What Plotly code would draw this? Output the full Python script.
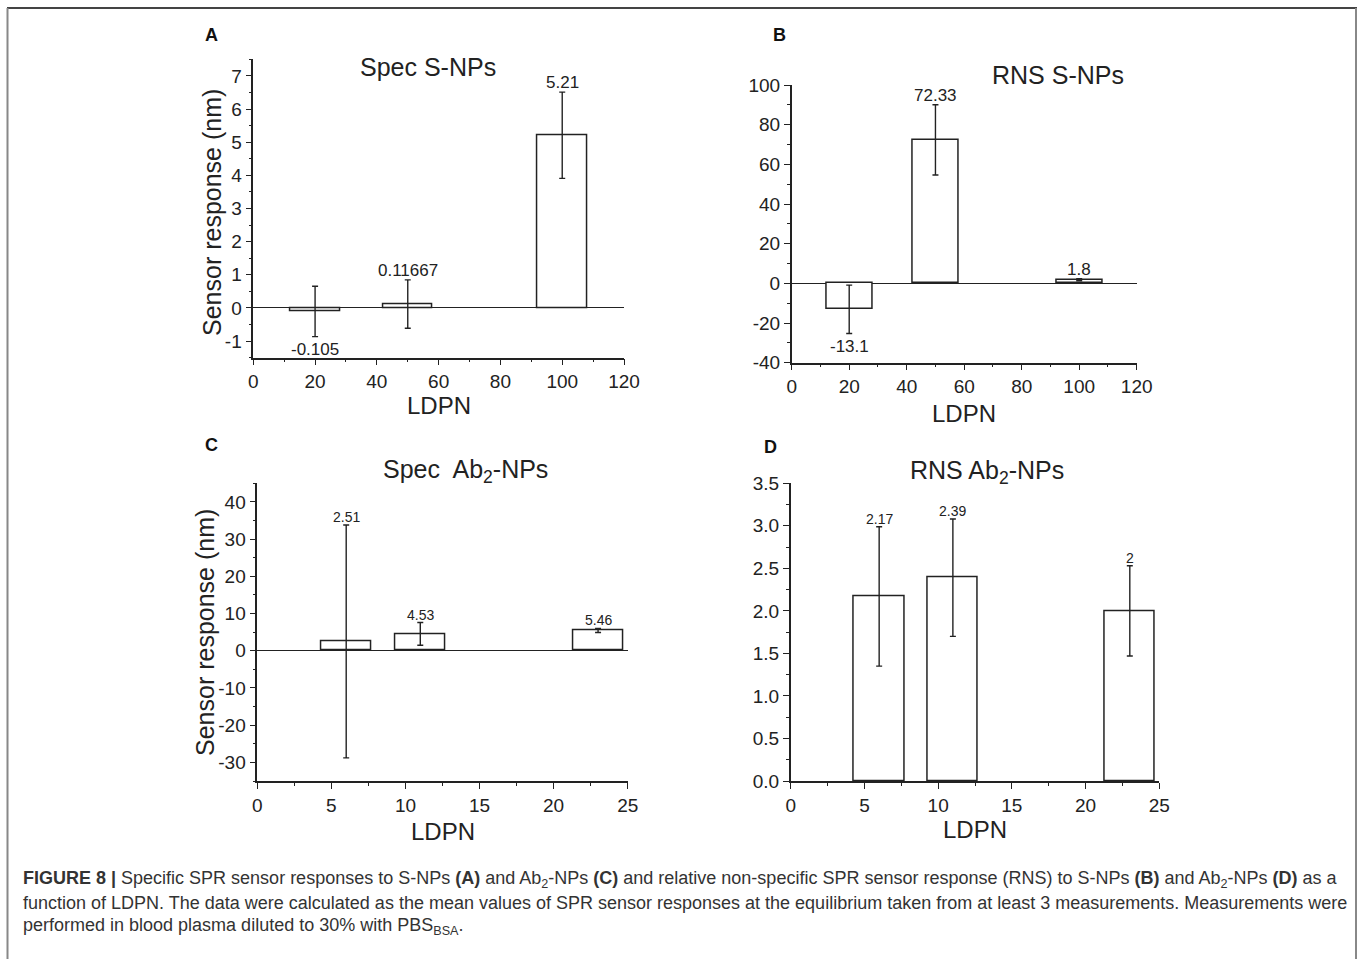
import plotly.graph_objects as go

W, H = 1358, 959

# ---------------- data ----------------
ldpn_s = [20, 50, 100]
spec_s = [-0.105, 0.11667, 5.21]
spec_s_err = [0.76, 0.73, 1.30]
spec_s_lbl = ["-0.105", "0.11667", "5.21"]

rns_s = [-13.1, 72.33, 1.8]
rns_s_err = [12.2, 17.7, 0.5]
rns_s_lbl = ["-13.1", "72.33", "1.8"]

ldpn_ab = [6, 11, 23]
spec_ab = [2.51, 4.53, 5.46]
spec_ab_err = [31.3, 3.05, 0.55]
spec_ab_lbl = ["2.51", "4.53", "5.46"]

rns_ab = [2.17, 2.39, 2.0]
rns_ab_err = [0.82, 0.69, 0.53]
rns_ab_lbl = ["2.17", "2.39", "2"]

FONT = "Liberation Sans, Arial, Helvetica, sans-serif"
INK = "#222"


def px(x):
    return x / W


def py(y):
    return 1 - y / H


def tick_list(lo, hi, step, fmt):
    vals, text = [], []
    n = int(round((hi - lo) / step))
    for i in range(n + 1):
        v = round(lo + i * step, 6)
        vals.append(v)
        text.append(format(v, fmt) if fmt else ("%g" % v))
    return vals, text


panels = [
    dict(key="", x=ldpn_s, y=spec_s, err=spec_s_err, lbl=spec_s_lbl, width=16,
         xdom=(253.3, 624.0), ydom=(357.7, 59.3), xr=[0, 120], xd=20, xm=10,
         yr=[-1.5, 7.5], yt=(-1, 7, 1), ym=0.5, yfmt="", lblsize=17,
         title="Spec S-NPs", tpos=(428, 67), letter="A", lpos=(211, 35),
         ldpn=(439, 405), ytitle=(212, 213)),
    dict(key="2", x=ldpn_s, y=rns_s, err=rns_s_err, lbl=rns_s_lbl, width=16,
         xdom=(791.7, 1136.7), ydom=(362.7, 85.0), xr=[0, 120], xd=20, xm=10,
         yr=[-40, 100], yt=(-40, 100, 20), ym=10, yfmt="", lblsize=17,
         title="RNS S-NPs", tpos=(1058, 75), letter="B", lpos=(779, 35),
         ldpn=(964, 414), ytitle=None),
    dict(key="3", x=ldpn_ab, y=spec_ab, err=spec_ab_err, lbl=spec_ab_lbl, width=3.4,
         xdom=(257.3, 627.7), ydom=(781.0, 483.3), xr=[0, 25], xd=5, xm=2.5,
         yr=[-35, 45], yt=(-30, 40, 10), ym=5, yfmt="", lblsize=14,
         title="Spec  Ab<sub>2</sub>-NPs", tpos=(465, 471), letter="C", lpos=(211, 445),
         ldpn=(443, 831), ytitle=(205, 633)),
    dict(key="4", x=ldpn_ab, y=rns_ab, err=rns_ab_err, lbl=rns_ab_lbl, width=3.4,
         xdom=(790.7, 1159.3), ydom=(781.0, 483.3), xr=[0, 25], xd=5, xm=2.5,
         yr=[0, 3.5], yt=(0, 3.5, 0.5), ym=0.25, yfmt=".1f", lblsize=14,
         title="RNS Ab<sub>2</sub>-NPs", tpos=(987, 472), letter="D", lpos=(770, 447),
         ldpn=(975, 829), ytitle=None),
]

fig = go.Figure()
annotations = []
layout = {}

for p in panels:
    k = p["key"]
    xa, ya = "x" + k, "y" + k
    fig.add_trace(go.Bar(
        x=p["x"], y=p["y"], width=p["width"],
        marker=dict(color="white", line=dict(color=INK, width=1.5)),
        error_y=dict(type="data", array=p["err"], visible=True,
                     color=INK, thickness=1.4, width=3),
        xaxis=xa, yaxis=ya, showlegend=False, hoverinfo="x+y",
    ))
    common = dict(showline=True, linecolor=INK, linewidth=1.5,
                  ticks="outside", ticklen=6, tickwidth=1.4, tickcolor=INK,
                  showgrid=False, automargin=False,
                  tickfont=dict(family=FONT, size=19, color=INK))
    layout["xaxis" + k] = dict(
        domain=[px(p["xdom"][0]), px(p["xdom"][1])], anchor=ya,
        range=p["xr"], tick0=0, dtick=p["xd"], zeroline=False,
        minor=dict(ticks="outside", ticklen=3, tickwidth=1.2, tickcolor=INK,
                   dtick=p["xm"], showgrid=False),
        **common)
    yv_, yt_ = tick_list(p["yt"][0], p["yt"][1], p["yt"][2], p["yfmt"])
    layout["yaxis" + k] = dict(
        domain=[py(p["ydom"][0]), py(p["ydom"][1])], anchor=xa,
        range=p["yr"], tickmode="array", tickvals=yv_, ticktext=yt_,
        zeroline=(p["yr"][0] < 0), zerolinecolor=INK, zerolinewidth=1.4,
        minor=dict(ticks="outside", ticklen=3, tickwidth=1.2, tickcolor=INK,
                   tick0=0, dtick=p["ym"], showgrid=False),
        **common)
    # value labels
    for xv, yv, ev, t in zip(p["x"], p["y"], p["err"], p["lbl"]):
        if yv < 0:
            annotations.append(dict(x=xv, y=yv - ev, xref=xa, yref=ya, text=t,
                                    showarrow=False, yanchor="top", yshift=-1,
                                    font=dict(family=FONT, size=p["lblsize"], color=INK)))
        else:
            annotations.append(dict(x=xv, y=yv + ev, xref=xa, yref=ya, text=t,
                                    showarrow=False, yanchor="bottom", yshift=-2,
                                    font=dict(family=FONT, size=p["lblsize"], color=INK)))
    # panel title
    annotations.append(dict(x=px(p["tpos"][0]), y=py(p["tpos"][1]), xref="paper", yref="paper",
                            text=p["title"], showarrow=False, xanchor="center", yanchor="middle",
                            font=dict(family=FONT, size=25, color=INK)))
    # panel letter
    annotations.append(dict(x=px(p["lpos"][0]), y=py(p["lpos"][1]), xref="paper", yref="paper",
                            text="<b>%s</b>" % p["letter"], showarrow=False,
                            xanchor="center", yanchor="middle",
                            font=dict(family=FONT, size=18, color="#111")))
    # x title
    annotations.append(dict(x=px(p["ldpn"][0]), y=py(p["ldpn"][1]), xref="paper", yref="paper",
                            text="LDPN", showarrow=False, xanchor="center", yanchor="middle",
                            font=dict(family=FONT, size=24, color=INK)))
    if p["ytitle"]:
        annotations.append(dict(x=px(p["ytitle"][0]), y=py(p["ytitle"][1]), xref="paper",
                                yref="paper", text="Sensor response (nm)", textangle=-90,
                                showarrow=False, xanchor="center", yanchor="middle",
                                font=dict(family=FONT, size=25, color=INK)))

# caption
cap_lines = [
    "<b>FIGURE 8 |</b> Specific SPR sensor responses to S-NPs <b>(A)</b> and Ab<sub>2</sub>-NPs "
    "<b>(C)</b> and relative non-specific SPR sensor response (RNS) to S-NPs <b>(B)</b> and "
    "Ab<sub>2</sub>-NPs <b>(D)</b> as a",
    "function of LDPN. The data were calculated as the mean values of SPR sensor responses at the "
    "equilibrium taken from at least 3 measurements. Measurements were",
    "performed in blood plasma diluted to 30% with PBS<sub>BSA</sub>.",
]
cap_y = [879, 903, 926]
for t, yy in zip(cap_lines, cap_y):
    annotations.append(dict(x=px(21), y=py(yy), xref="paper", yref="paper", text=t,
                            showarrow=False, xanchor="left", yanchor="middle",
                            font=dict(family=FONT, size=18, color="#333")))

shapes = [
    dict(type="line", xref="paper", yref="paper", x0=px(7), x1=px(1357), y0=py(8), y1=py(8),
         line=dict(color="#444", width=2)),
    dict(type="line", xref="paper", yref="paper", x0=px(7.5), x1=px(7.5), y0=py(8), y1=-0.02,
         line=dict(color="#888", width=2)),
    dict(type="line", xref="paper", yref="paper", x0=px(1356), x1=px(1356), y0=py(8), y1=-0.02,
         line=dict(color="#888", width=2)),
]

fig.update_layout(
    width=W, height=H,
    margin=dict(l=0, r=0, t=0, b=0, pad=0, autoexpand=False),
    paper_bgcolor="white", plot_bgcolor="white",
    annotations=annotations, shapes=shapes, bargap=0, showlegend=False,
    font=dict(family=FONT, color=INK),
    **layout,
)

fig.write_html(
    "out.html",
    config={"displayModeBar": False},
    post_script="document.body.style.margin='0';"
                "document.documentElement.style.overflow='hidden';"
                "document.body.style.overflow='hidden';",
)
